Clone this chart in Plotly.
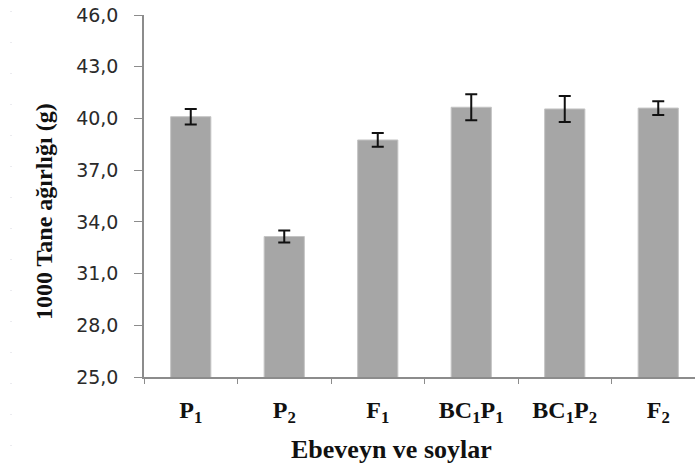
import plotly.graph_objects as go

categories = ["P1", "P2", "F1", "BC1P1", "BC1P2", "F2"]
tick_labels = ["<b>P<sub>1</sub></b>", "<b>P<sub>2</sub></b>", "<b>F<sub>1</sub></b>",
               "<b>BC<sub>1</sub>P<sub>1</sub></b>", "<b>BC<sub>1</sub>P<sub>2</sub></b>",
               "<b>F<sub>2</sub></b>"]
values = [40.1, 33.15, 38.75, 40.65, 40.55, 40.6]
errors = [0.45, 0.35, 0.4, 0.75, 0.75, 0.4]
y_ticks = [25, 28, 31, 34, 37, 40, 43, 46]

W, H = 695, 465
L, R, T, B = 144, 0, 15, 88

fig = go.Figure()
fig.add_trace(go.Bar(
    x=categories, y=values,
    marker=dict(color="#a6a6a6", line=dict(color="#c4c4c4", width=1)),
    error_y=dict(type="data", array=errors, visible=True,
                 color="#111111", thickness=2, width=6),
    width=0.43,
))

fig.update_layout(
    width=W, height=H,
    margin=dict(l=L, r=R, t=T, b=B, pad=0),
    plot_bgcolor="white", paper_bgcolor="white",
    separators=", ",
    showlegend=False,
    xaxis=dict(
        type="category",
        range=[-0.5, 5.393],
        tickmode="array", tickvals=categories, ticktext=tick_labels,
        tickson="boundaries",
        ticks="outside", ticklen=5, tickcolor="#8c8c8c", tickwidth=1,
        showline=True, linecolor="#8c8c8c", linewidth=1.5,
        showgrid=False,
        tickfont=dict(family="Liberation Serif", size=24, color="#111111"),
        ticklabelstandoff=10,
    ),
    yaxis=dict(
        range=[25, 46],
        tickmode="array", tickvals=y_ticks, tickformat=".1f",
        ticks="outside", ticklen=8, tickcolor="#8c8c8c", tickwidth=1,
        showline=True, linecolor="#8c8c8c", linewidth=1.5,
        showgrid=False, zeroline=False,
        tickfont=dict(family="DejaVu Sans", size=19, color="#2a2a2a"),
        ticklabelstandoff=12,
    ),
)

fig.add_annotation(
    text="<b>1000 Tane ağırlığı (g)</b>", textangle=-90,
    xref="paper", yref="paper", x=(44 - L) / (W - L - R), y=(H - B - 212) / (H - B - T),
    showarrow=False, xanchor="center", yanchor="middle",
    font=dict(family="Liberation Serif", size=24, color="#111111"),
)
fig.add_annotation(
    text="<b>Ebeveyn ve soylar</b>",
    xref="paper", yref="paper", x=(391 - L) / (W - L - R), y=-(449 - (H - B)) / (H - B - T),
    showarrow=False, xanchor="center", yanchor="middle",
    font=dict(family="Liberation Serif", size=26, color="#111111"),
)
# faint dotted decoration at left edge
fig.add_shape(type="line", xref="paper", yref="paper",
              x0=-(L - 11) / (W - L - R), x1=-(L - 11) / (W - L - R),
              y0=(H - B - 11) / (H - B - T), y1=(H - B - 460) / (H - B - T),
              line=dict(color="#d8d8e0", width=1, dash="1px,30px"))

fig.write_html("out.html")
